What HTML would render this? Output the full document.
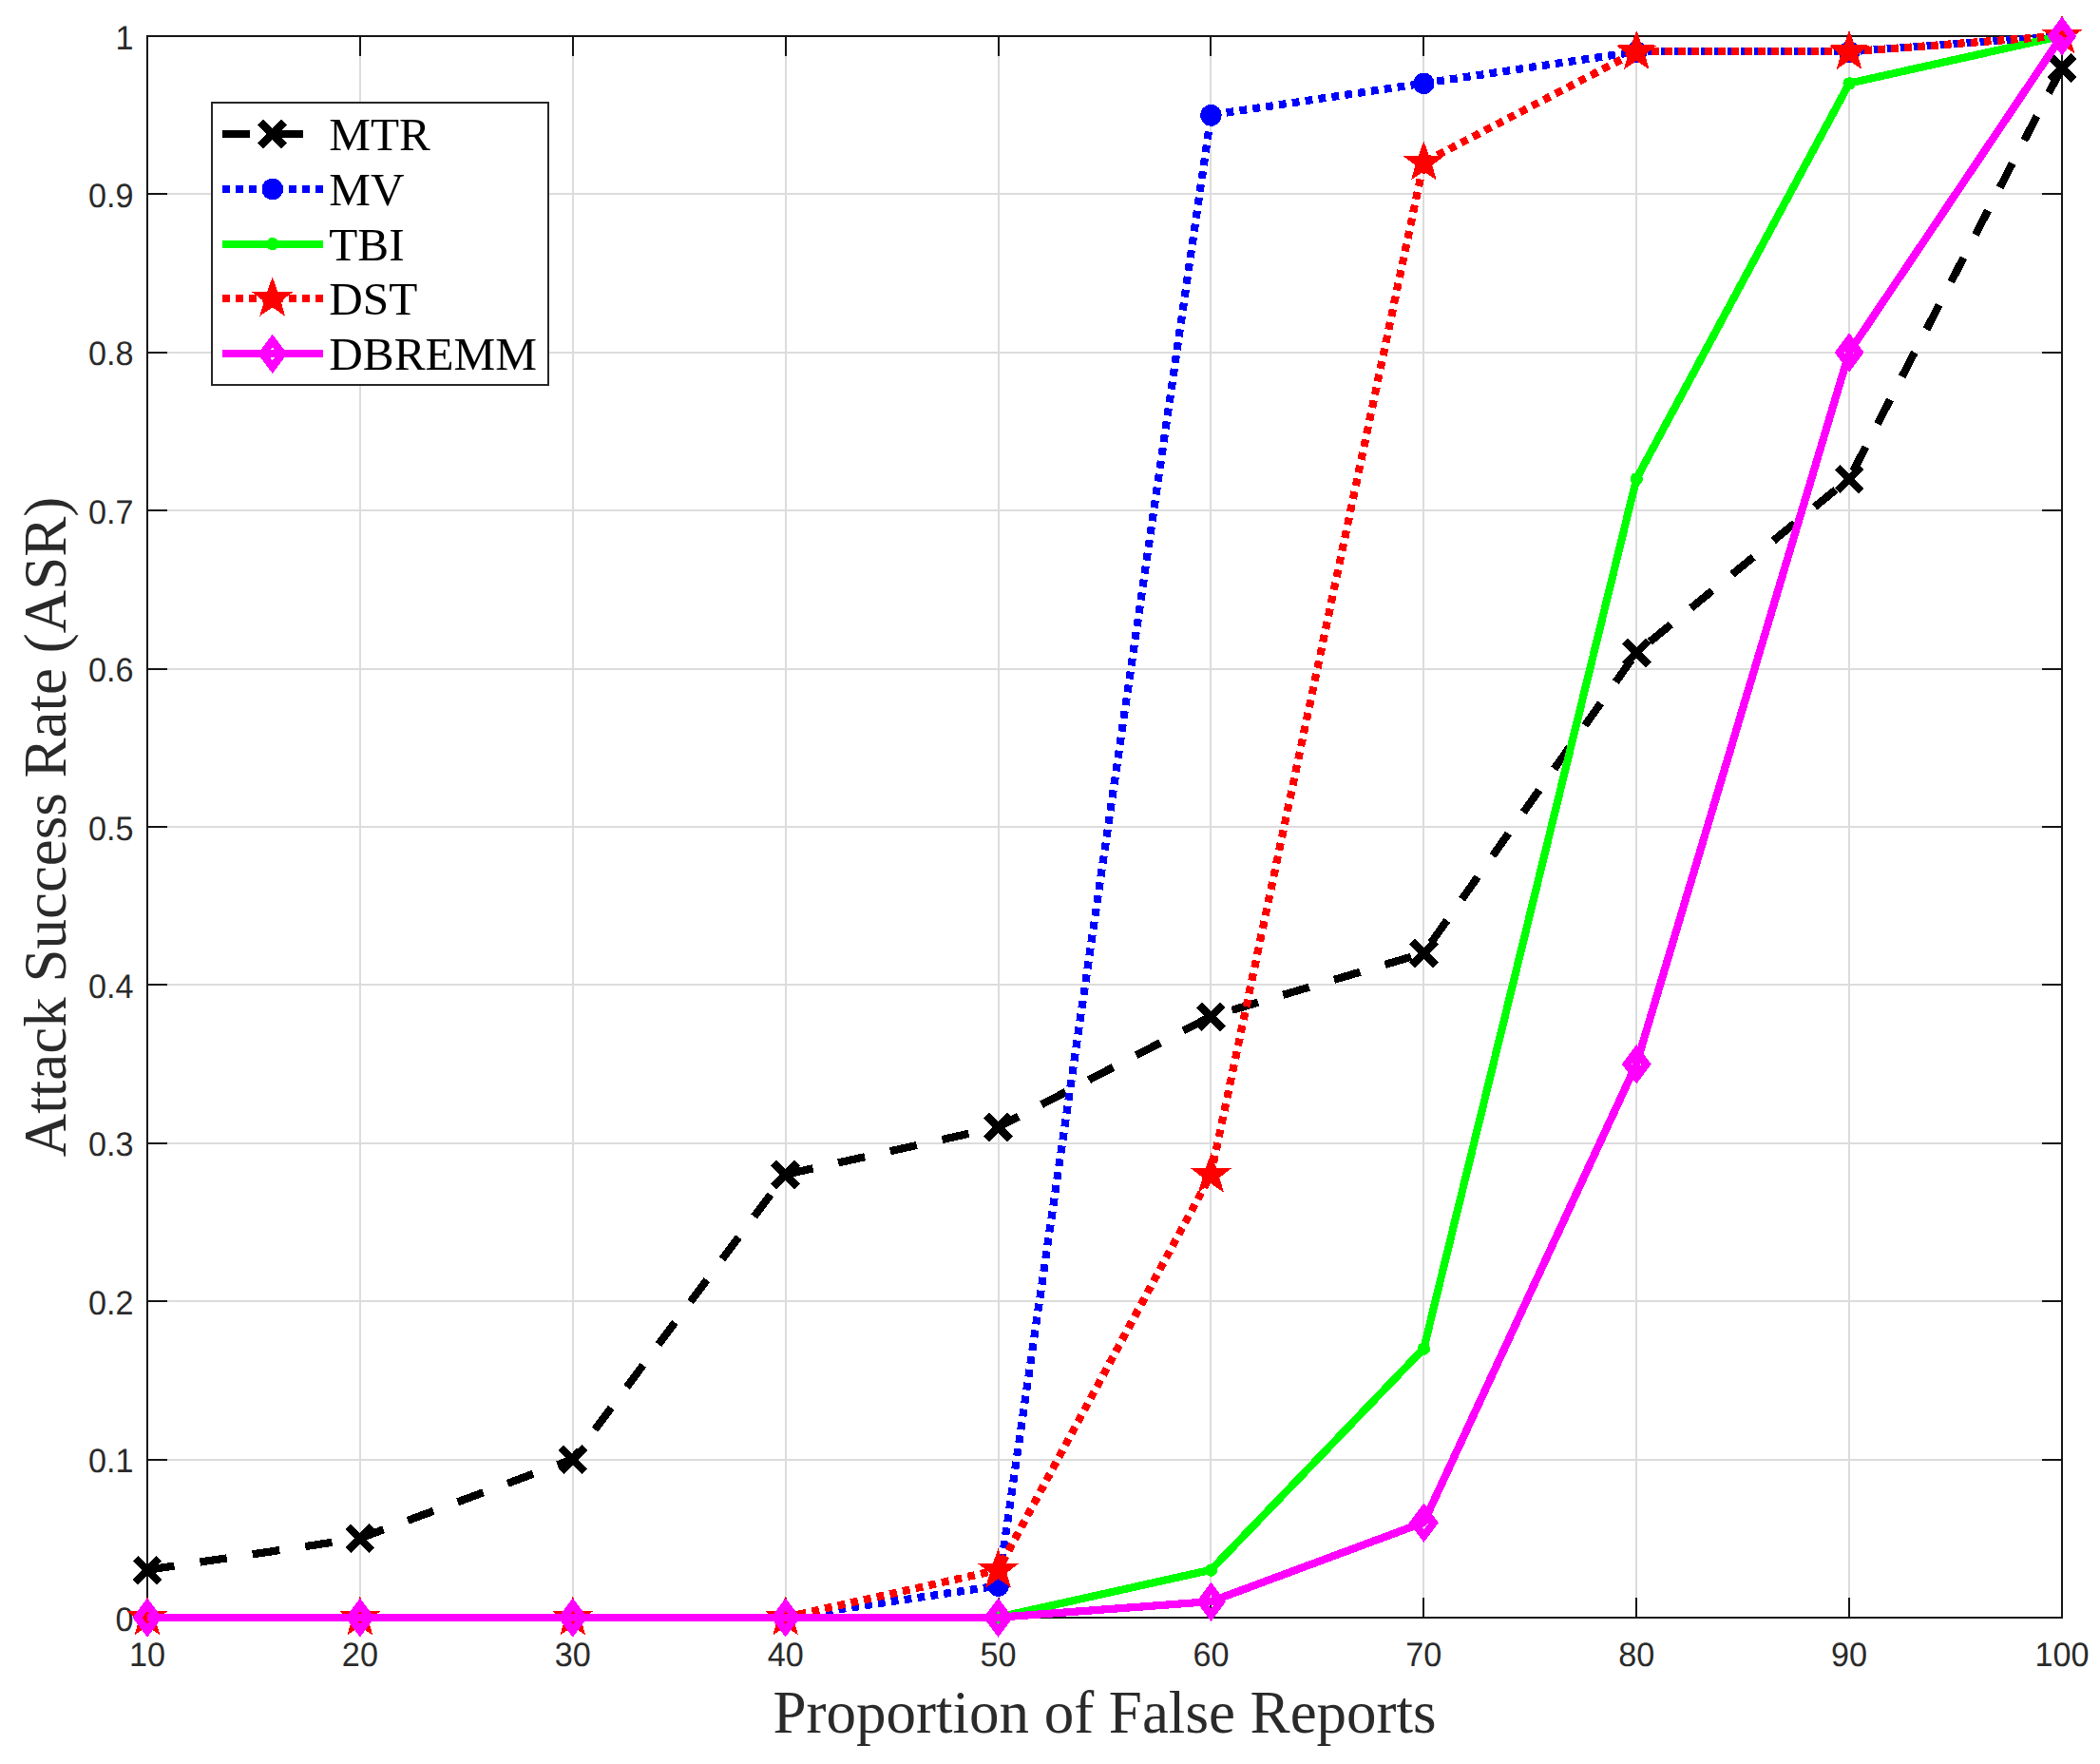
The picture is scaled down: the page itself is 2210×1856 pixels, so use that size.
<!DOCTYPE html>
<html lang="en"><head><meta charset="utf-8"><title>Attack Success Rate vs Proportion of False Reports</title>
<style>html,body{margin:0;padding:0;background:#fff}svg{display:block}.t{font-family:"Liberation Sans",sans-serif;font-size:34.2px;fill:#2a2a2a;text-rendering:geometricPrecision}.s{font-family:"Liberation Serif",serif}</style></head><body>
<svg width="2210" height="1856" viewBox="0 0 2210 1856">
<rect width="2210" height="1856" fill="#fff"/>
<path d="M379 38 V1702 M603 38 V1702 M827 38 V1702 M1051 38 V1702 M1274 38 V1702 M1498 38 V1702 M1722 38 V1702 M1946 38 V1702 M155 1536 H2170 M155 1369 H2170 M155 1203 H2170 M155 1036 H2170 M155 870 H2170 M155 704 H2170 M155 537 H2170 M155 371 H2170 M155 204 H2170" stroke="#dcdcdc" stroke-width="2" fill="none"/>
<path d="M379 1702 v-21 M379 38 v21 M603 1702 v-21 M603 38 v21 M827 1702 v-21 M827 38 v21 M1051 1702 v-21 M1051 38 v21 M1274 1702 v-21 M1274 38 v21 M1498 1702 v-21 M1498 38 v21 M1722 1702 v-21 M1722 38 v21 M1946 1702 v-21 M1946 38 v21 M155 1536 h21 M2170 1536 h-21 M155 1369 h21 M2170 1369 h-21 M155 1203 h21 M2170 1203 h-21 M155 1036 h21 M2170 1036 h-21 M155 870 h21 M2170 870 h-21 M155 704 h21 M2170 704 h-21 M155 537 h21 M2170 537 h-21 M155 371 h21 M2170 371 h-21 M155 204 h21 M2170 204 h-21" stroke="#151515" stroke-width="2" fill="none"/>
<rect x="155" y="38" width="2015" height="1664" fill="none" stroke="#151515" stroke-width="2"/>
<text class="t" transform="translate(155.00 1752.6) scale(1 1.04)" text-anchor="middle">10</text>
<text class="t" transform="translate(378.89 1752.6) scale(1 1.04)" text-anchor="middle">20</text>
<text class="t" transform="translate(602.78 1752.6) scale(1 1.04)" text-anchor="middle">30</text>
<text class="t" transform="translate(826.67 1752.6) scale(1 1.04)" text-anchor="middle">40</text>
<text class="t" transform="translate(1050.56 1752.6) scale(1 1.04)" text-anchor="middle">50</text>
<text class="t" transform="translate(1274.44 1752.6) scale(1 1.04)" text-anchor="middle">60</text>
<text class="t" transform="translate(1498.33 1752.6) scale(1 1.04)" text-anchor="middle">70</text>
<text class="t" transform="translate(1722.22 1752.6) scale(1 1.04)" text-anchor="middle">80</text>
<text class="t" transform="translate(1946.11 1752.6) scale(1 1.04)" text-anchor="middle">90</text>
<text class="t" transform="translate(2170.00 1752.6) scale(1 1.04)" text-anchor="middle">100</text>
<text class="t" transform="translate(140.6 1715.55) scale(1 1.04)" text-anchor="end">0</text>
<text class="t" transform="translate(140.6 1549.15) scale(1 1.04)" text-anchor="end">0.1</text>
<text class="t" transform="translate(140.6 1382.75) scale(1 1.04)" text-anchor="end">0.2</text>
<text class="t" transform="translate(140.6 1216.35) scale(1 1.04)" text-anchor="end">0.3</text>
<text class="t" transform="translate(140.6 1049.95) scale(1 1.04)" text-anchor="end">0.4</text>
<text class="t" transform="translate(140.6 883.55) scale(1 1.04)" text-anchor="end">0.5</text>
<text class="t" transform="translate(140.6 717.15) scale(1 1.04)" text-anchor="end">0.6</text>
<text class="t" transform="translate(140.6 550.75) scale(1 1.04)" text-anchor="end">0.7</text>
<text class="t" transform="translate(140.6 384.35) scale(1 1.04)" text-anchor="end">0.8</text>
<text class="t" transform="translate(140.6 217.95) scale(1 1.04)" text-anchor="end">0.9</text>
<text class="t" transform="translate(140.6 51.55) scale(1 1.04)" text-anchor="end">1</text>
<text class="s" x="1162.5" y="1822.9" text-anchor="middle" font-size="63" fill="#2a2a2a">Proportion of False Reports</text>
<text class="s" transform="translate(68.6 870) rotate(-90)" text-anchor="middle" font-size="63" fill="#2a2a2a">Attack Success Rate (ASR)</text>
<g shape-rendering="crispEdges">
<path d="M155.00 1651.78 L378.89 1618.50 L602.78 1535.30 L826.67 1235.78 L1050.56 1185.86 L1274.44 1069.38 L1498.33 1002.82 L1722.22 686.66 L1946.11 503.62 L2170.00 70.98" stroke="#000" stroke-width="8.2" fill="none" stroke-linejoin="round" stroke-dasharray="28.7 27.3"/>
<path d="M142.50 1639.58 l25 25 M142.50 1664.58 l25 -25" stroke="#000" stroke-width="8.2" fill="none"/>
<path d="M366.39 1606.30 l25 25 M366.39 1631.30 l25 -25" stroke="#000" stroke-width="8.2" fill="none"/>
<path d="M590.28 1523.10 l25 25 M590.28 1548.10 l25 -25" stroke="#000" stroke-width="8.2" fill="none"/>
<path d="M814.17 1223.58 l25 25 M814.17 1248.58 l25 -25" stroke="#000" stroke-width="8.2" fill="none"/>
<path d="M1038.06 1173.66 l25 25 M1038.06 1198.66 l25 -25" stroke="#000" stroke-width="8.2" fill="none"/>
<path d="M1261.94 1057.18 l25 25 M1261.94 1082.18 l25 -25" stroke="#000" stroke-width="8.2" fill="none"/>
<path d="M1485.83 990.62 l25 25 M1485.83 1015.62 l25 -25" stroke="#000" stroke-width="8.2" fill="none"/>
<path d="M1709.72 674.46 l25 25 M1709.72 699.46 l25 -25" stroke="#000" stroke-width="8.2" fill="none"/>
<path d="M1933.61 491.42 l25 25 M1933.61 516.42 l25 -25" stroke="#000" stroke-width="8.2" fill="none"/>
<path d="M2157.50 58.78 l25 25 M2157.50 83.78 l25 -25" stroke="#000" stroke-width="8.2" fill="none"/>
<path d="M155.00 1701.70 L378.89 1701.70 L602.78 1701.70 L826.67 1701.70 L1050.56 1668.42 L1274.44 120.90 L1498.33 87.62 L1722.22 54.34 L1946.11 54.34 L2170.00 37.70" stroke="#00f" stroke-width="8.2" fill="none" stroke-linejoin="round" stroke-dasharray="7.8 6.2"/>
<circle cx="155.00" cy="1702.00" r="11.2" fill="#00f"/>
<circle cx="378.89" cy="1702.00" r="11.2" fill="#00f"/>
<circle cx="602.78" cy="1702.00" r="11.2" fill="#00f"/>
<circle cx="826.67" cy="1702.00" r="11.2" fill="#00f"/>
<circle cx="1050.56" cy="1668.72" r="11.2" fill="#00f"/>
<circle cx="1274.44" cy="121.20" r="11.2" fill="#00f"/>
<circle cx="1498.33" cy="87.92" r="11.2" fill="#00f"/>
<circle cx="1722.22" cy="54.64" r="11.2" fill="#00f"/>
<circle cx="1946.11" cy="54.64" r="11.2" fill="#00f"/>
<circle cx="2170.00" cy="38.00" r="11.2" fill="#00f"/>
<path d="M155.00 1701.70 L378.89 1701.70 L602.78 1701.70 L826.67 1701.70 L1050.56 1701.70 L1274.44 1651.78 L1498.33 1418.82 L1722.22 503.62 L1946.11 87.62 L2170.00 37.70" stroke="#0f0" stroke-width="8.2" fill="none" stroke-linejoin="round"/>
<circle cx="155.00" cy="1702.00" r="6.7" fill="#0f0"/>
<circle cx="378.89" cy="1702.00" r="6.7" fill="#0f0"/>
<circle cx="602.78" cy="1702.00" r="6.7" fill="#0f0"/>
<circle cx="826.67" cy="1702.00" r="6.7" fill="#0f0"/>
<circle cx="1050.56" cy="1702.00" r="6.7" fill="#0f0"/>
<circle cx="1274.44" cy="1652.08" r="6.7" fill="#0f0"/>
<circle cx="1498.33" cy="1419.12" r="6.7" fill="#0f0"/>
<circle cx="1722.22" cy="503.92" r="6.7" fill="#0f0"/>
<circle cx="1946.11" cy="87.92" r="6.7" fill="#0f0"/>
<circle cx="2170.00" cy="38.00" r="6.7" fill="#0f0"/>
<path d="M155.00 1701.70 L378.89 1701.70 L602.78 1701.70 L826.67 1701.70 L1050.56 1651.78 L1274.44 1235.78 L1498.33 170.82 L1722.22 54.34 L1946.11 54.34 L2170.00 37.70" stroke="#f00" stroke-width="8.2" fill="none" stroke-linejoin="round" stroke-dasharray="7.8 6.2"/>
<polygon points="155.00,1679.20 160.49,1694.44 176.68,1694.95 163.89,1704.89 168.40,1720.45 155.00,1711.35 141.60,1720.45 146.11,1704.89 133.32,1694.95 149.51,1694.44" fill="#f00"/>
<polygon points="378.89,1679.20 384.38,1694.44 400.57,1694.95 387.78,1704.89 392.29,1720.45 378.89,1711.35 365.49,1720.45 370.00,1704.89 357.20,1694.95 373.39,1694.44" fill="#f00"/>
<polygon points="602.78,1679.20 608.27,1694.44 624.46,1694.95 611.67,1704.89 616.18,1720.45 602.78,1711.35 589.38,1720.45 593.89,1704.89 581.09,1694.95 597.28,1694.44" fill="#f00"/>
<polygon points="826.67,1679.20 832.16,1694.44 848.35,1694.95 835.56,1704.89 840.07,1720.45 826.67,1711.35 813.27,1720.45 817.78,1704.89 804.98,1694.95 821.17,1694.44" fill="#f00"/>
<polygon points="1050.56,1629.28 1056.05,1644.52 1072.24,1645.03 1059.45,1654.97 1063.96,1670.53 1050.56,1661.43 1037.15,1670.53 1041.67,1654.97 1028.87,1645.03 1045.06,1644.52" fill="#f00"/>
<polygon points="1274.44,1213.28 1279.94,1228.52 1296.13,1229.03 1283.33,1238.97 1287.85,1254.53 1274.44,1245.43 1261.04,1254.53 1265.55,1238.97 1252.76,1229.03 1268.95,1228.52" fill="#f00"/>
<polygon points="1498.33,148.32 1503.83,163.56 1520.02,164.07 1507.22,174.01 1511.73,189.57 1498.33,180.47 1484.93,189.57 1489.44,174.01 1476.65,164.07 1492.84,163.56" fill="#f00"/>
<polygon points="1722.22,31.84 1727.72,47.08 1743.91,47.59 1731.11,57.53 1735.62,73.09 1722.22,63.99 1708.82,73.09 1713.33,57.53 1700.54,47.59 1716.73,47.08" fill="#f00"/>
<polygon points="1946.11,31.84 1951.61,47.08 1967.80,47.59 1955.00,57.53 1959.51,73.09 1946.11,63.99 1932.71,73.09 1937.22,57.53 1924.43,47.59 1940.62,47.08" fill="#f00"/>
<polygon points="2170.00,15.20 2175.49,30.44 2191.68,30.95 2178.89,40.89 2183.40,56.45 2170.00,47.35 2156.60,56.45 2161.11,40.89 2148.32,30.95 2164.51,30.44" fill="#f00"/>
<path d="M155.00 1701.70 L378.89 1701.70 L602.78 1701.70 L826.67 1701.70 L1050.56 1701.70 L1274.44 1685.06 L1498.33 1601.86 L1722.22 1119.30 L1946.11 370.50 L2170.00 37.70" stroke="#f0f" stroke-width="8.2" fill="none" stroke-linejoin="round"/>
<path d="M155.00 1688.20 l10.35 13.8 l-10.35 13.8 l-10.35 -13.8 Z" stroke="#f0f" stroke-width="8.2" stroke-linejoin="miter" fill="none"/>
<path d="M378.89 1688.20 l10.35 13.8 l-10.35 13.8 l-10.35 -13.8 Z" stroke="#f0f" stroke-width="8.2" stroke-linejoin="miter" fill="none"/>
<path d="M602.78 1688.20 l10.35 13.8 l-10.35 13.8 l-10.35 -13.8 Z" stroke="#f0f" stroke-width="8.2" stroke-linejoin="miter" fill="none"/>
<path d="M826.67 1688.20 l10.35 13.8 l-10.35 13.8 l-10.35 -13.8 Z" stroke="#f0f" stroke-width="8.2" stroke-linejoin="miter" fill="none"/>
<path d="M1050.56 1688.20 l10.35 13.8 l-10.35 13.8 l-10.35 -13.8 Z" stroke="#f0f" stroke-width="8.2" stroke-linejoin="miter" fill="none"/>
<path d="M1274.44 1671.56 l10.35 13.8 l-10.35 13.8 l-10.35 -13.8 Z" stroke="#f0f" stroke-width="8.2" stroke-linejoin="miter" fill="none"/>
<path d="M1498.33 1588.36 l10.35 13.8 l-10.35 13.8 l-10.35 -13.8 Z" stroke="#f0f" stroke-width="8.2" stroke-linejoin="miter" fill="none"/>
<path d="M1722.22 1105.80 l10.35 13.8 l-10.35 13.8 l-10.35 -13.8 Z" stroke="#f0f" stroke-width="8.2" stroke-linejoin="miter" fill="none"/>
<path d="M1946.11 357.00 l10.35 13.8 l-10.35 13.8 l-10.35 -13.8 Z" stroke="#f0f" stroke-width="8.2" stroke-linejoin="miter" fill="none"/>
<path d="M2170.00 24.20 l10.35 13.8 l-10.35 13.8 l-10.35 -13.8 Z" stroke="#f0f" stroke-width="8.2" stroke-linejoin="miter" fill="none"/>
</g>
<rect x="223" y="108" width="354" height="297" fill="#fff" stroke="#262626" stroke-width="2"/>
<g shape-rendering="crispEdges">
<path d="M234.00 141.00 L340.00 141.00" stroke="#000" stroke-width="8.2" fill="none" stroke-linejoin="round" stroke-dasharray="28.7 27.3"/>
<path d="M274.20 128.50 l25 25 M274.20 153.50 l25 -25" stroke="#000" stroke-width="8.2" fill="none"/>
<path d="M234.00 199.00 L340.00 199.00" stroke="#00f" stroke-width="8.2" fill="none" stroke-linejoin="round" stroke-dasharray="7.8 6.2"/>
<circle cx="286.70" cy="199.00" r="11.2" fill="#00f"/>
<path d="M234.00 256.70 L340.00 256.70" stroke="#0f0" stroke-width="8.2" fill="none" stroke-linejoin="round"/>
<circle cx="286.70" cy="256.70" r="6.7" fill="#0f0"/>
<path d="M234.00 314.20 L340.00 314.20" stroke="#f00" stroke-width="8.2" fill="none" stroke-linejoin="round" stroke-dasharray="7.8 6.2"/>
<polygon points="286.70,291.40 292.19,306.64 308.38,307.15 295.59,317.09 300.10,332.65 286.70,323.55 273.30,332.65 277.81,317.09 265.02,307.15 281.21,306.64" fill="#f00"/>
<path d="M234.00 372.30 L340.00 372.30" stroke="#f0f" stroke-width="8.2" fill="none" stroke-linejoin="round"/>
<path d="M286.70 358.50 l10.35 13.8 l-10.35 13.8 l-10.35 -13.8 Z" stroke="#f0f" stroke-width="8.2" stroke-linejoin="miter" fill="none"/>
</g>
<text class="s" x="346.3" y="158.00" font-size="49.2" fill="#000">MTR</text>
<text class="s" x="346.3" y="216.00" font-size="49.2" fill="#000">MV</text>
<text class="s" x="346.3" y="273.70" font-size="49.2" fill="#000">TBI</text>
<text class="s" x="346.3" y="331.20" font-size="49.2" fill="#000">DST</text>
<text class="s" x="346.3" y="389.30" font-size="49.2" fill="#000">DBREMM</text>
</svg></body></html>
